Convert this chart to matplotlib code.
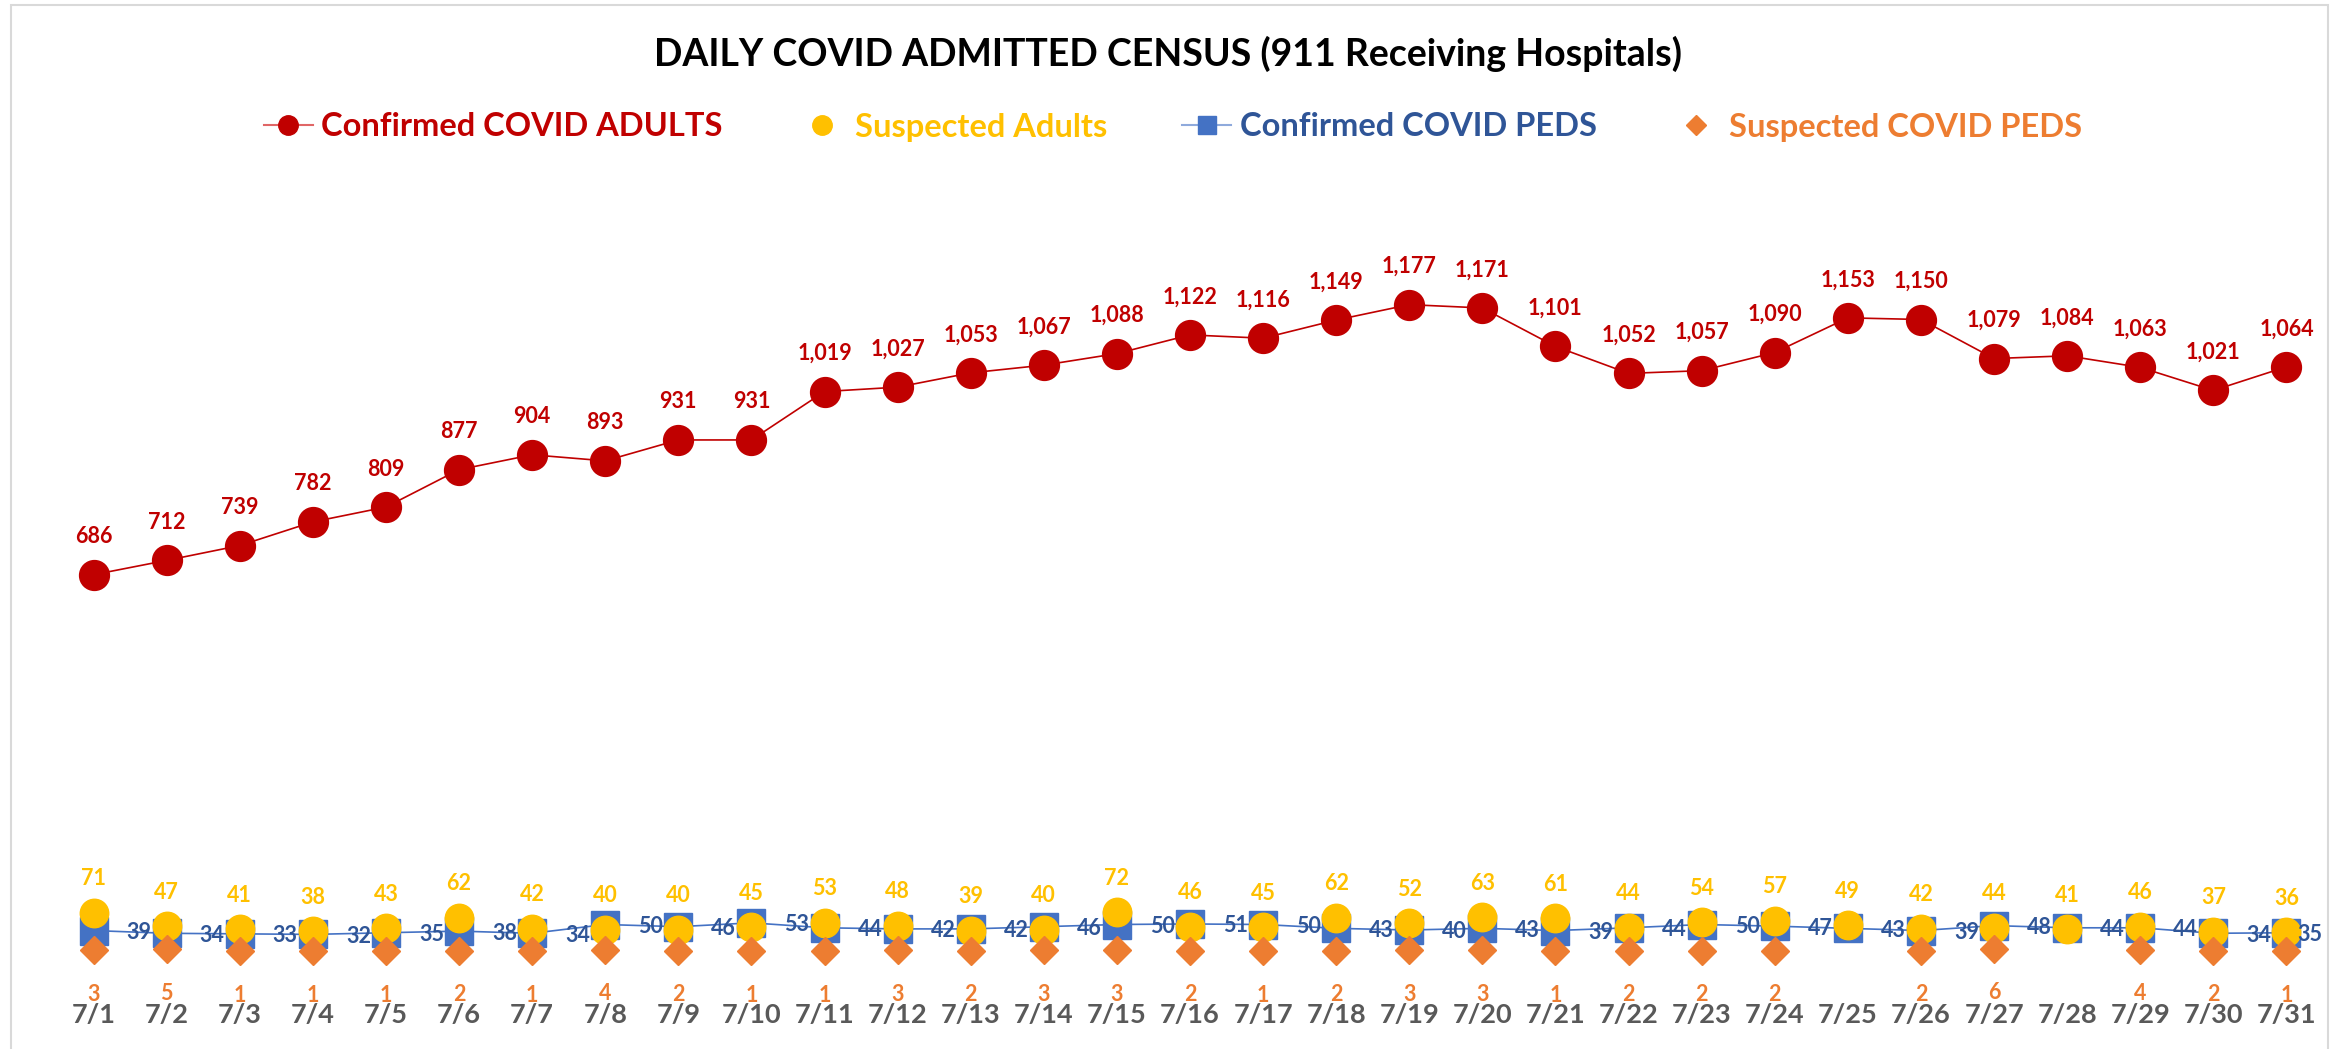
import matplotlib
matplotlib.use("Agg")
import matplotlib.pyplot as plt
from matplotlib.lines import Line2D
from matplotlib.patches import Rectangle
import numpy as np

plt.rcParams['font.family'] = ['Lato', 'DejaVu Sans']

dates = [f"7/{d}" for d in range(1, 32)]
confirmed_adults = [686, 712, 739, 782, 809, 877, 904, 893, 931, 931, 1019, 1027, 1053, 1067, 1088,
                    1122, 1116, 1149, 1177, 1171, 1101, 1052, 1057, 1090, 1153, 1150, 1079, 1084,
                    1063, 1021, 1064]
suspected_adults = [71, 47, 41, 38, 43, 62, 42, 40, 40, 45, 53, 48, 39, 40, 72, 46, 45, 62, 52, 63,
                    61, 44, 54, 57, 49, 42, 44, 41, 46, 37, 36]
confirmed_peds = [39, 34, 33, 32, 35, 38, 34, 50, 46, 53, 44, 42, 42, 46, 50, 51, 50, 43, 40, 43,
                  39, 44, 50, 47, 43, 39, 48, 44, 44, 34, 35]
suspected_peds = [3, 5, 1, 1, 1, 2, 1, 4, 2, 1, 1, 3, 2, 3, 3, 2, 1, 2, 3, 3, 1, 2, 2, 2, None, 2, 6,
                  None, 4, 2, 1]

RED = "#C00000"
YEL = "#FFC000"
BLUE = "#4472C4"
BLUE_T = "#2F5597"
ORG = "#ED7D31"

W, H = 2336, 1049
fig = plt.figure(figsize=(W / 100, H / 100), dpi=100)
ax = fig.add_axes([57 / W, (H - 952) / H, 2266 / W, 770 / H])
x = np.arange(len(dates))
ax.set_xlim(-0.5, len(dates) - 0.5)
ax.set_ylim(0, 1400)

sp = np.array([np.nan if v is None else v for v in suspected_peds], dtype=float)

ax.plot(x, confirmed_adults, color=RED, lw=1.2, marker='o', ms=21.5, mfc=RED, mec=RED, zorder=3,
        clip_on=False)
ax.plot(x, confirmed_peds, color=BLUE, lw=1.2, marker='s', ms=20.5, mfc=BLUE, mec=BLUE, zorder=2,
        clip_on=False)
ax.plot(x, suspected_adults, ls='none', marker='o', ms=20.5, mfc=YEL, mec=YEL, zorder=4,
        clip_on=False)
ax.plot(x, sp, ls='none', marker='D', ms=14, mfc=ORG, mec=ORG, zorder=5, clip_on=False)

fs = 15.5
n = len(dates)
for i in range(n):
    ax.annotate(f"{confirmed_adults[i]:,}", (x[i], confirmed_adults[i]), xytext=(0, 38),
                textcoords='offset pixels', ha='center', va='center', color=RED,
                fontsize=fs, fontweight='bold', zorder=6)
    ax.annotate(f"{suspected_adults[i]}", (x[i], suspected_adults[i]), xytext=(0, 34),
                textcoords='offset pixels', ha='center', va='center', color=YEL,
                fontsize=fs, fontweight='bold', zorder=6, annotation_clip=False)
    dx = 33 if i < n - 1 else 11
    ax.annotate(f"{confirmed_peds[i]}", (x[i], confirmed_peds[i]), xytext=(dx, -2),
                textcoords='offset pixels', ha='left', va='center', color=BLUE_T,
                fontsize=fs, fontweight='bold', zorder=6, annotation_clip=False)
    if suspected_peds[i] is not None:
        ax.annotate(f"{suspected_peds[i]}", (x[i], suspected_peds[i]), xytext=(0, -44),
                    textcoords='offset pixels', ha='center', va='center', color=ORG,
                    fontsize=fs, fontweight='bold', zorder=6, annotation_clip=False)

ax.set_xticks(x)
ax.set_xticklabels(dates, fontsize=19.5, fontweight='bold', color="#595959")
ax.tick_params(axis='x', length=0, pad=37)
ax.set_yticks([])
for s in ax.spines.values():
    s.set_visible(False)
ax.patch.set_alpha(0)

fig.text(1168 / W, 1 - 54 / H, "DAILY COVID ADMITTED CENSUS (911 Receiving Hospitals)",
         ha='center', va='center', fontsize=27, fontweight='bold', color='black')

handles = [
    Line2D([], [], color="#E06666", lw=1.5, marker='o', ms=14, mfc=RED, mec=RED),
    Line2D([], [], ls='none', marker='o', ms=14, mfc=YEL, mec=YEL),
    Line2D([], [], color="#8FAADC", lw=1.5, marker='s', ms=13, mfc=BLUE, mec=BLUE),
    Line2D([], [], ls='none', marker='D', ms=10, mfc=ORG, mec=ORG),
]
labels = ["Confirmed COVID ADULTS", "Suspected Adults", "Confirmed COVID PEDS", "Suspected COVID PEDS"]
leg = fig.legend(handles, labels, loc='center', bbox_to_anchor=(1173 / W, 1 - 127 / H), ncol=4,
                 frameon=False, prop={'size': 23.5, 'weight': 'bold'}, handlelength=1.5,
                 handletextpad=0.26, columnspacing=2.3, borderpad=0, borderaxespad=0)
for t, c in zip(leg.get_texts(), [RED, YEL, BLUE_T, ORG]):
    t.set_color(c)

fig.patches.append(Rectangle((11 / W, -0.05), (2328 - 11) / W, 1.05 - 5 / H, transform=fig.transFigure,
                             fill=False, edgecolor="#D9D9D9", lw=1.5))

fig.savefig("out.png", dpi=100)
